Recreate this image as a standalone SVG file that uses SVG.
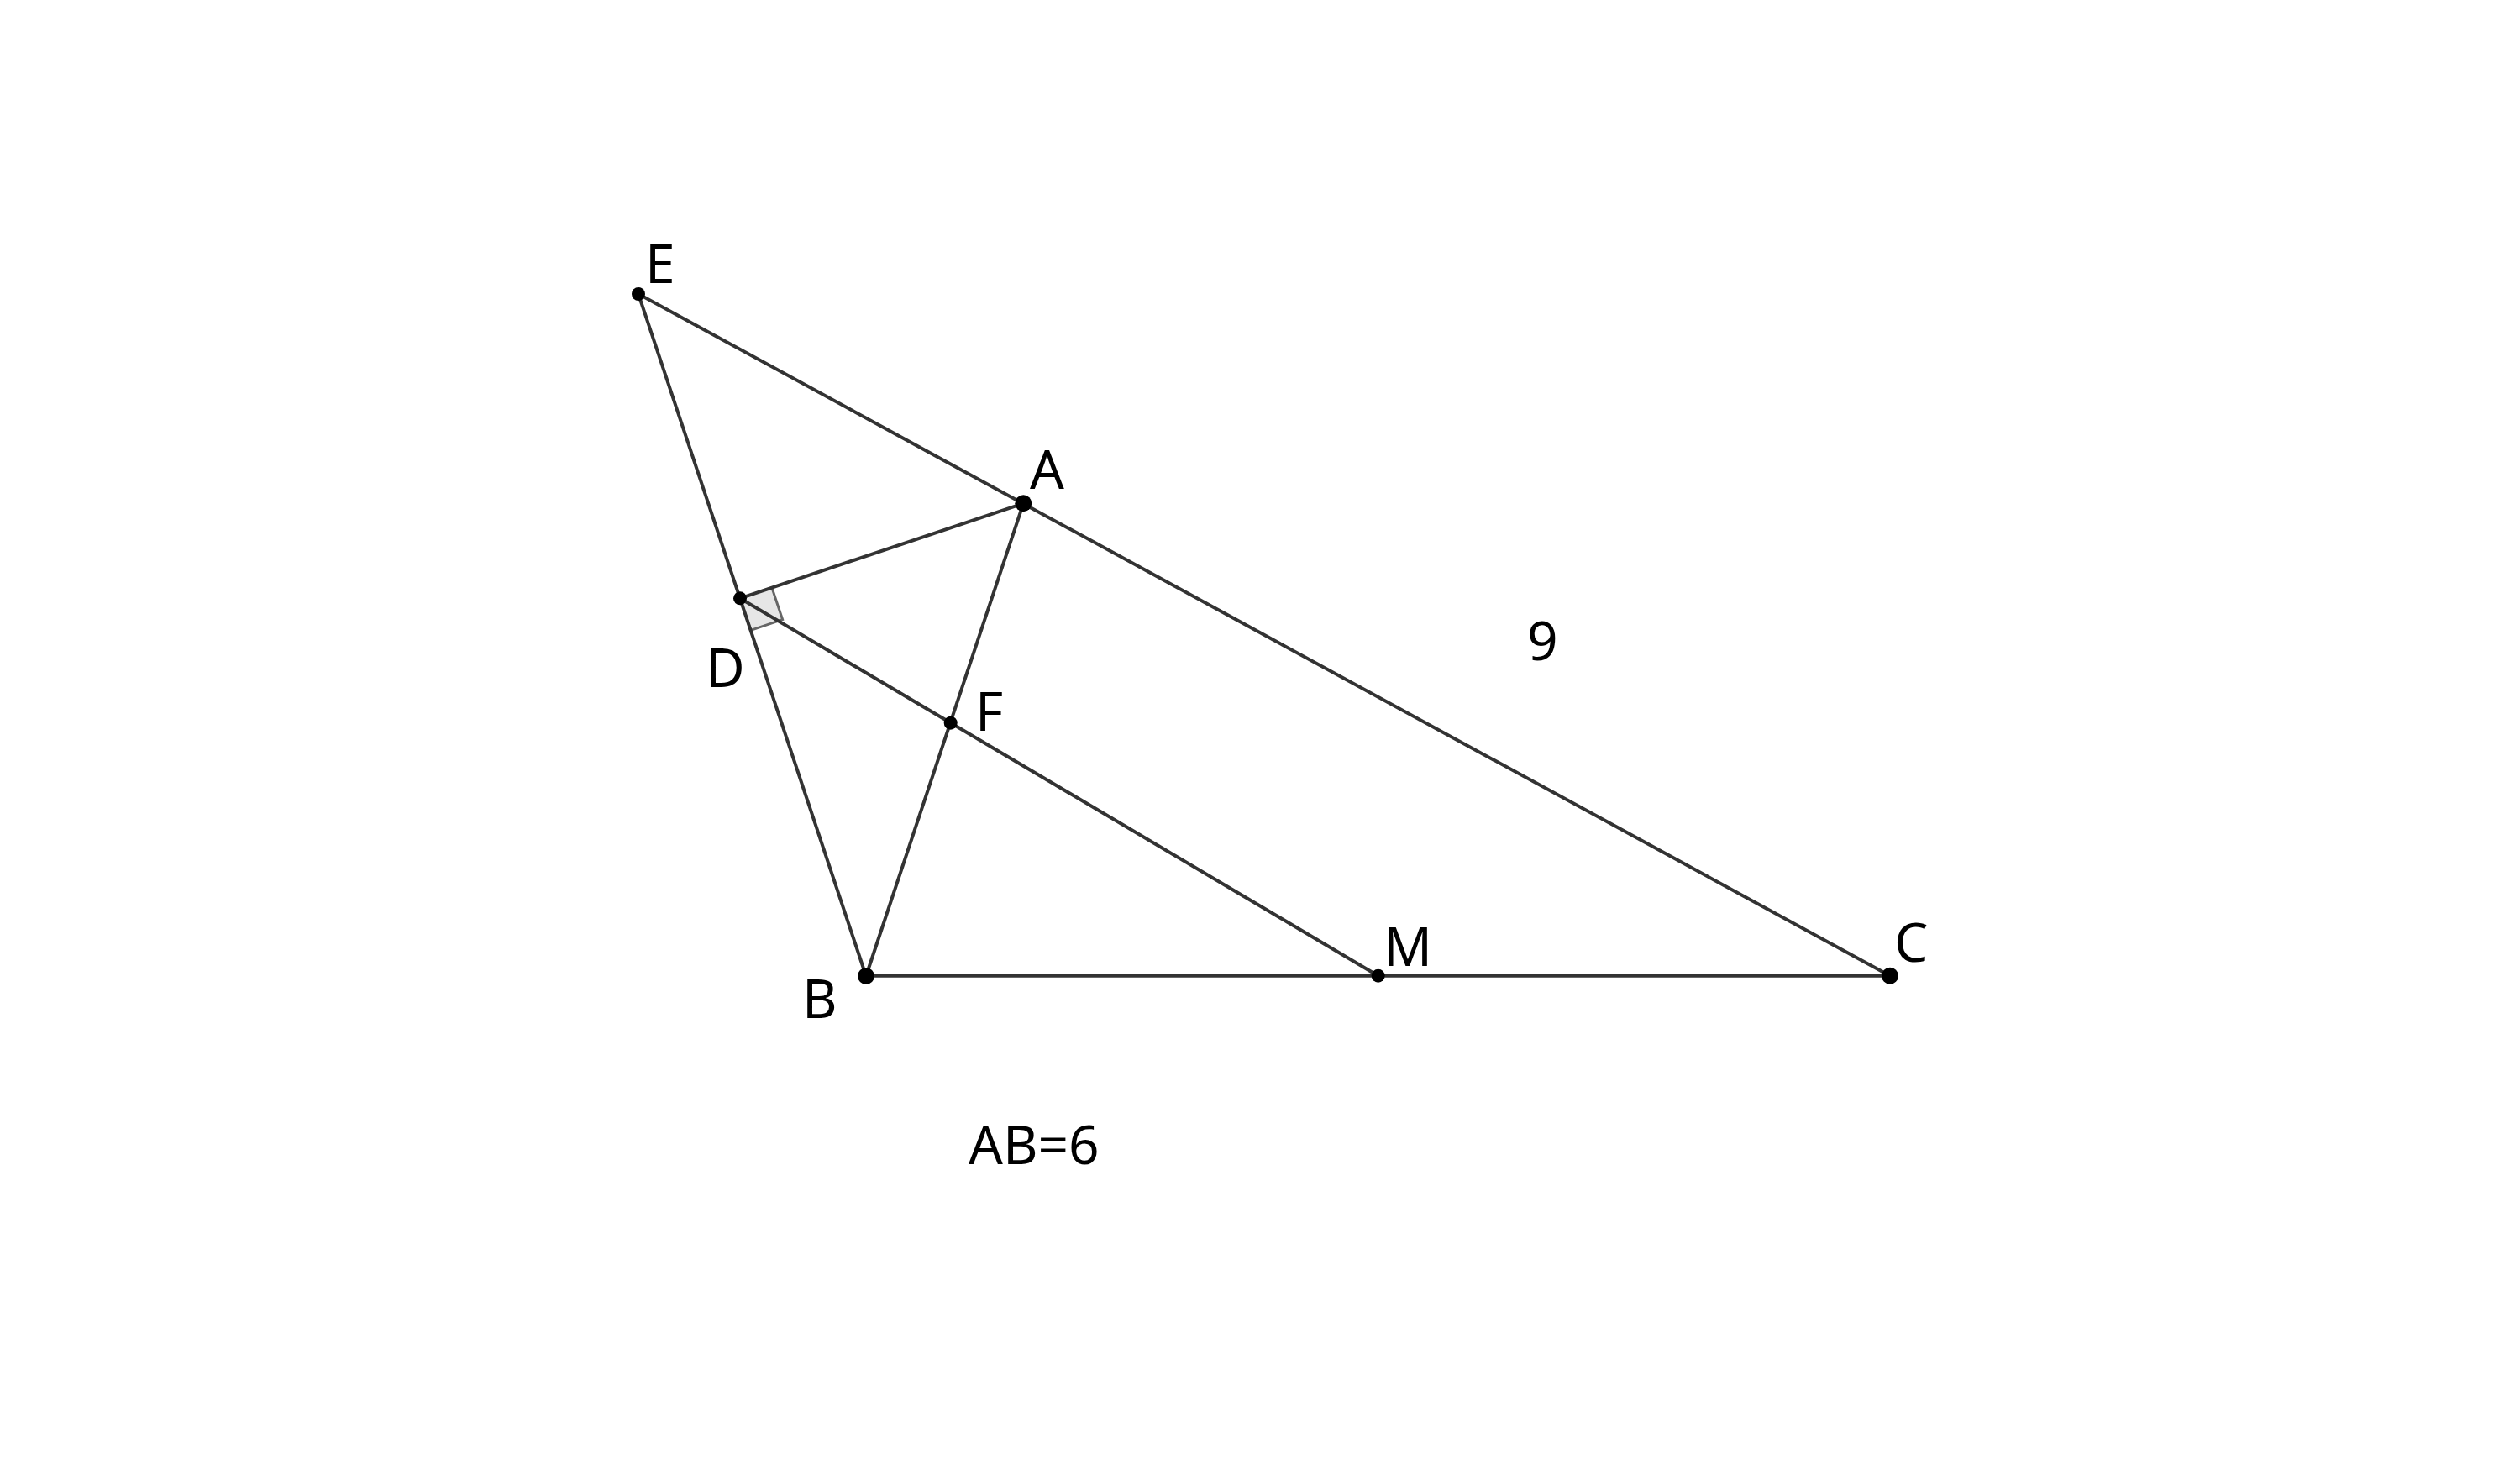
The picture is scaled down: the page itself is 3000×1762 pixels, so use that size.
<svg xmlns="http://www.w3.org/2000/svg" width="3000" height="1762" viewBox="0 0 3000 1762">
<style>
.ln{stroke:#333333;stroke-width:4;fill:none;stroke-linecap:round}
.pt{fill:#000000}
.lb{font-family:"Noto Sans","Open Sans","DejaVu Sans",sans-serif;font-size:64px;fill:#000000}
</style>
<rect width="3000" height="1762" fill="#ffffff"/>
<g id="angle-mark">
<polygon points="881,712.3 918.9,699.6 931.6,737.6 893.6,750.3" fill="#e6e6e6" stroke="#666666" stroke-width="3"/>
</g>
<g id="connectors">
<line class="ln" x1="760" y1="350" x2="2250" y2="1161.7"/>
<line class="ln" x1="760" y1="350" x2="1031" y2="1162"/>
<line class="ln" x1="881" y1="712.3" x2="1218.3" y2="599.3"/>
<line class="ln" x1="1218.3" y1="599.3" x2="1031" y2="1162"/>
<line class="ln" x1="881" y1="712.3" x2="1640.7" y2="1161.7"/>
<line class="ln" x1="1031" y1="1161.7" x2="2250" y2="1161.7"/>
</g>
<g id="node-E"><circle class="pt" cx="760" cy="350" r="8"/><text class="lb" x="768" y="337">E</text></g>
<g id="node-A"><circle class="pt" cx="1218.3" cy="599.3" r="10"/><text class="lb" x="1226" y="582">A</text></g>
<g id="node-D"><circle class="pt" cx="881" cy="712.3" r="8"/><text class="lb" x="840" y="818">D</text></g>
<g id="node-F"><circle class="pt" cx="1131.7" cy="860.7" r="8"/><text class="lb" x="1161" y="870">F</text></g>
<g id="node-B"><circle class="pt" cx="1031" cy="1162" r="10"/><text class="lb" x="955" y="1212">B</text></g>
<g id="node-M"><circle class="pt" cx="1640.7" cy="1161.7" r="8"/><text class="lb" x="1647" y="1150">M</text></g>
<g id="node-C"><circle class="pt" cx="2250" cy="1161.7" r="10"/><text class="lb" x="2255" y="1145">C</text></g>
<g id="label-9"><text class="lb" x="1818" y="786">9</text></g>
<g id="label-AB"><text class="lb" x="1153" y="1386">AB=6</text></g>
</svg>
